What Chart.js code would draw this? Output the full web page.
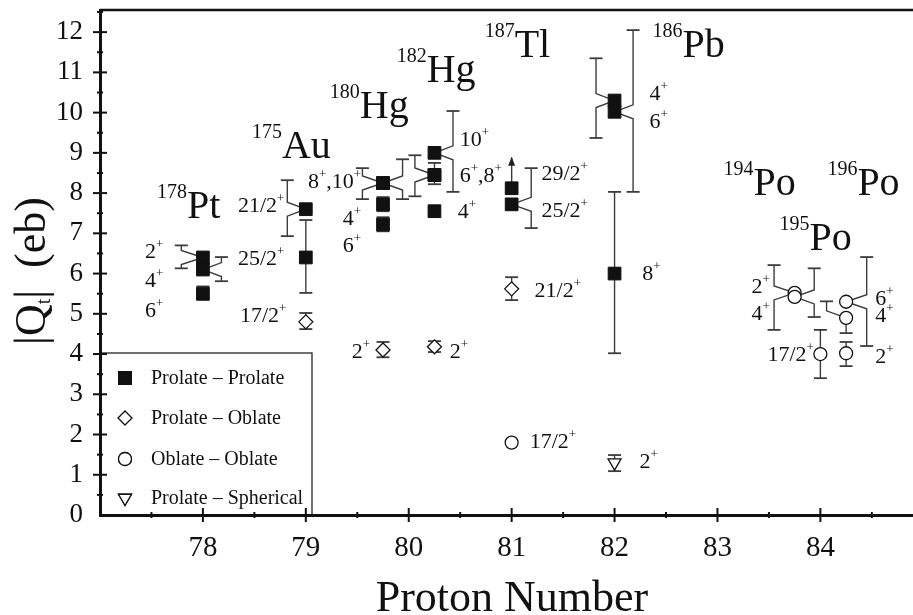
<!DOCTYPE html>
<html>
<head>
<meta charset="utf-8">
<script src="https://cdn.jsdelivr.net/npm/chart.js@4.4.0/dist/chart.umd.min.js"></script>
<style>
  html, body { margin: 0; padding: 0; background: #fff; overflow: hidden; }
  #wrap { width: 913px; height: 615px; }
  canvas { display: block; }
</style>
</head>
<body>
<div id="wrap"><canvas id="grafico"></canvas></div>
<script>
// Prolate - Prolate (filled squares)
const ppZ    = [78, 78, 78, 79, 79, 79.75, 79.75, 79.75, 79.75, 80.25, 80.25, 80.25, 80.25, 81, 81, 82, 82, 82];
const ppQ    = [6.4, 6.1, 5.5, 7.6, 6.4, 8.25, 8.25, 7.72, 7.22, 9.0, 8.45, 8.45, 7.55, 8.12, 7.72, 10.3, 10.02, 6.0];
const ppLo   = [6.13, 5.81, 5.35, 6.93, 5.52, 7.85, 7.85, 7.55, 7.05, 8.03, 7.92, 8.22, null, null, 7.13, 9.37, 8.03, 4.02];
const ppHi   = [6.7, 6.41, 5.68, 8.32, 7.33, 8.62, 8.84, 7.9, 7.4, 10.04, 8.94, 8.75, null, 8.88, 8.62, 11.35, 12.05, 8.03];
const ppBarZ = [77.79, 78.18, 78, 78.82, 79, 79.55, 79.94, 79.75, 79.75, 80.43, 80.06, 80.25, 80.25, 81, 81.19, 81.82, 82.18, 82];

// Prolate - Oblate (open diamonds)
const poZ  = [79, 79.75, 80.25, 81];
const poQ  = [4.8, 4.1, 4.18, 5.62];
const poLo = [4.62, 3.92, 4.05, 5.34];
const poHi = [5.02, 4.3, 4.32, 5.91];

// Oblate - Oblate (open circles)
const ooZ      = [81, 83.75, 83.75, 84, 84.25, 84.25, 84.25];
const ooQ      = [1.8, 5.52, 5.42, 4.0, 5.3, 4.9, 4.02];
const ooLo     = [null, 4.6, 4.92, 3.4, 4.2, 4.52, 3.7];
const ooHi     = [null, 6.21, 6.13, 4.6, 6.41, 5.31, 4.3];
const ooBarLoZ = [81, 83.55, 83.94, 84, 84.45, 84.25, 84.25];
const ooBarHiZ = [81, 83.55, 83.94, 84, 84.45, 84.06, 84.25];

// Prolate - Spherical (open triangles)
const psZ  = [82];
const psQ  = [1.3];
const psLo = [1.09];
const psHi = [1.49];

// isotope names
const isoMass = ['178', '175', '180', '182', '187', '186', '194', '196', '195'];
const isoName = ['Pt', 'Au', 'Hg', 'Hg', 'Tl', 'Pb', 'Po', 'Po', 'Po'];
const isoZ    = [77.553, 78.476, 79.233, 79.883, 80.738, 82.369, 83.058, 84.068, 83.602];
const isoQ    = [7.38, 8.87, 9.86, 10.76, 11.38, 11.38, 7.95, 7.95, 6.58];

// spin labels
const spinTxt = ['2^+', '4^+', '6^+', '21/2^+', '25/2^+', '17/2^+', '8^+,10^+', '4^+', '6^+', '2^+',
                 '10^+', '6^+,8^+', '4^+', '2^+', '29/2^+', '25/2^+', '21/2^+', '17/2^+',
                 '4^+', '6^+', '8^+', '2^+', '2^+', '4^+', '17/2^+', '6^+', '4^+', '2^+'];
const spinZ = [77.437, 77.437, 77.437, 78.34, 78.34, 78.36, 79.02, 79.36, 79.36, 79.447,
               80.495, 80.495, 80.476, 80.398, 81.29, 81.29, 81.223, 81.175,
               82.34, 82.34, 82.27, 82.243, 83.33, 83.33, 83.485, 84.534, 84.534, 84.534];
const spinQ = [6.385, 5.665, 4.92, 7.53, 6.21, 4.795, 8.12, 7.2, 6.53, 3.9,
               9.17, 8.27, 7.38, 3.9, 8.32, 7.40, 5.42, 1.66,
               10.31, 9.61, 5.84, 1.17, 5.52, 4.84, 3.83, 5.22, 4.80, 3.78];

const serie = [
  { z: ppZ, q: ppQ, lo: ppLo, hi: ppHi, barLo: ppBarZ, barHi: ppBarZ },
  { z: poZ, q: poQ, lo: poLo, hi: poHi, barLo: poZ, barHi: poZ },
  { z: ooZ, q: ooQ, lo: ooLo, hi: ooHi, barLo: ooBarLoZ, barHi: ooBarHiZ },
  { z: psZ, q: psQ, lo: psLo, hi: psHi, barLo: psZ, barHi: psZ },
];

const fuente = '"Liberation Serif", "Times New Roman", serif';

function puntos(zs, qs) {
  return zs.map((z, i) => ({ x: z, y: qs[i] }));
}

function mitadBarra(ctx, px, py, bx, by, dir, flecha) {
  ctx.beginPath();
  ctx.moveTo(px, py);
  if (Math.abs(bx - px) > 0.5) {
    ctx.lineTo(bx, py + dir * 7);
  }
  ctx.lineTo(bx, by);
  ctx.lineWidth = 1.4;
  ctx.stroke();
  if (flecha) {
    ctx.beginPath();
    ctx.moveTo(bx, by - 1);
    ctx.lineTo(bx - 3.5, by + 8);
    ctx.lineTo(bx + 3.5, by + 8);
    ctx.closePath();
    ctx.fill();
  } else {
    ctx.beginPath();
    ctx.moveTo(bx - 6.5, by);
    ctx.lineTo(bx + 6.5, by);
    ctx.lineWidth = 1.8;
    ctx.stroke();
  }
}

function textoSpin(ctx, txt, x, y) {
  const partes = txt.split('^+');
  let cx = x;
  partes.forEach((p, k) => {
    ctx.font = '22px ' + fuente;
    ctx.fillText(p, cx, y);
    cx += ctx.measureText(p).width;
    if (k < partes.length - 1) {
      ctx.font = '13px ' + fuente;
      ctx.fillText('+', cx, y - 10);
      cx += ctx.measureText('+').width;
    }
  });
}

const decorado = {
  id: 'decorado',
  beforeDatasetsDraw(chart) {
    const { ctx, scales: { x, y } } = chart;
    ctx.save();
    ctx.strokeStyle = '#3c3c3c';
    ctx.fillStyle = '#222';
    serie.forEach(s => {
      s.z.forEach((z, i) => {
        const px = x.getPixelForValue(z), py = y.getPixelForValue(s.q[i]);
        if (s.hi[i] != null) {
          mitadBarra(ctx, px, py, x.getPixelForValue(s.barHi[i]), y.getPixelForValue(s.hi[i]), -1, s.lo[i] == null);
        }
        if (s.lo[i] != null) {
          mitadBarra(ctx, px, py, x.getPixelForValue(s.barLo[i]), y.getPixelForValue(s.lo[i]), 1, false);
        }
      });
    });
    ctx.restore();
  },
  afterDatasetsDraw(chart) {
    const { ctx, chartArea: area, scales: { x, y } } = chart;
    ctx.save();
    ctx.fillStyle = '#111';
    ctx.strokeStyle = '#111';
    ctx.textBaseline = 'alphabetic';
    ctx.textAlign = 'left';

    // marco superior
    ctx.lineWidth = 2.5;
    ctx.beginPath();
    ctx.moveTo(area.left, area.top);
    ctx.lineTo(area.right, area.top);
    ctx.stroke();

    // ticks mayores y menores
    ctx.lineWidth = 2;
    for (let v = 0.5; v <= 12.5; v += 0.5) {
      const py = y.getPixelForValue(v), l = Number.isInteger(v) ? 7 : 3;
      ctx.beginPath(); ctx.moveTo(area.left - l, py); ctx.lineTo(area.left + l, py); ctx.stroke();
    }
    for (let v = 77.5; v <= 84.5; v += 0.5) {
      const px = x.getPixelForValue(v), l = Number.isInteger(v) ? 7 : 3;
      ctx.beginPath(); ctx.moveTo(px, area.bottom - l); ctx.lineTo(px, area.bottom + l); ctx.stroke();
    }

    // nombres de isotopos
    isoName.forEach((n, i) => {
      const px = x.getPixelForValue(isoZ[i]), py = y.getPixelForValue(isoQ[i]);
      ctx.font = '20px ' + fuente;
      ctx.fillText(isoMass[i], px, py - 20);
      const w = ctx.measureText(isoMass[i]).width;
      ctx.font = '40px ' + fuente;
      ctx.fillText(n, px + w, py);
    });

    // etiquetas de spin
    spinTxt.forEach((t, i) => {
      textoSpin(ctx, t, x.getPixelForValue(spinZ[i]), y.getPixelForValue(spinQ[i]));
    });

    // leyenda
    const top = area.bottom - 162;
    ctx.lineWidth = 1.2;
    ctx.strokeRect(area.left, top, 212, area.bottom - top);
    const filas = [25, 65, 106, 145];
    chart.data.datasets.forEach((ds, i) => {
      const cy = top + filas[i];
      Chart.helpers.drawPoint(ctx, {
        pointStyle: ds.pointStyle, radius: ds.pointRadius, rotation: ds.rotation || 0,
        borderWidth: ds.borderWidth
      }, area.left + 25, cy);
      ctx.fillStyle = ds.backgroundColor;
      ctx.strokeStyle = ds.borderColor;
      ctx.lineWidth = ds.borderWidth;
      ctx.fill();
      ctx.stroke();
      ctx.fillStyle = '#111';
      ctx.font = '20px ' + fuente;
      ctx.textBaseline = 'middle';
      ctx.fillText(ds.label, area.left + 51, cy + 1);
      ctx.textBaseline = 'alphabetic';
    });

    // titulo eje y
    ctx.save();
    ctx.translate(45, 271);
    ctx.rotate(-Math.PI / 2);
    ctx.font = '44px ' + fuente;
    const a = '|Q', b = 't', c = '|  (eb)';
    const wa = ctx.measureText(a).width, wc = ctx.measureText(c).width;
    ctx.font = '20px ' + fuente;
    const wb = ctx.measureText(b).width;
    let cx = -(wa + wb + wc) / 2;
    ctx.font = '44px ' + fuente;
    ctx.fillText(a, cx, 0); cx += wa;
    ctx.font = '20px ' + fuente;
    ctx.fillText(b, cx, 5); cx += wb;
    ctx.font = '44px ' + fuente;
    ctx.fillText(c, cx, 0);
    ctx.restore();

    // titulo eje x
    ctx.font = '44px ' + fuente;
    ctx.textAlign = 'center';
    ctx.fillText('Proton Number', 512, 611);
    ctx.restore();
  }
};

new Chart(document.getElementById('grafico'), {
  type: 'scatter',
  data: {
    datasets: [
      { label: 'Prolate \u2013 Prolate', data: puntos(ppZ, ppQ), pointStyle: 'rect', pointRadius: 9,
        backgroundColor: '#111', borderColor: '#111', borderWidth: 1 },
      { label: 'Prolate \u2013 Oblate', data: puntos(poZ, poQ), pointStyle: 'rectRot', pointRadius: 7,
        backgroundColor: '#fff', borderColor: '#111', borderWidth: 1.3 },
      { label: 'Oblate \u2013 Oblate', data: puntos(ooZ, ooQ), pointStyle: 'circle', pointRadius: 6.5,
        backgroundColor: '#fff', borderColor: '#111', borderWidth: 1.3 },
      { label: 'Prolate \u2013 Spherical', data: puntos(psZ, psQ), pointStyle: 'triangle', rotation: 180, pointRadius: 7.5,
        backgroundColor: '#fff', borderColor: '#111', borderWidth: 1.3 },
    ],
  },
  options: {
    responsive: true,
    maintainAspectRatio: false,
    animation: false,
    layout: { autoPadding: false, padding: { top: 10, left: 0, right: 0, bottom: 0 } },
    plugins: { legend: { display: false }, tooltip: { enabled: false } },
    scales: {
      x: {
        type: 'linear', min: 77, max: 84.9,
        afterFit(scale) { scale.height = 100; scale.paddingLeft = 0; scale.paddingRight = 0; },
        grid: { display: false, drawTicks: false },
        border: { display: true, color: '#111', width: 3 },
        ticks: {
          stepSize: 1, includeBounds: false, autoSkip: false, maxRotation: 0, padding: 16,
          color: '#111', font: { family: fuente, size: 29 },
          callback: v => (v >= 78 && v <= 84 && Number.isInteger(v)) ? String(v) : '',
        },
      },
      y: {
        type: 'linear', min: 0, max: 12.55,
        afterFit(scale) { scale.width = 100; scale.paddingTop = 0; scale.paddingBottom = 0; },
        grid: { display: false, drawTicks: false },
        border: { display: true, color: '#111', width: 3 },
        ticks: {
          stepSize: 1, includeBounds: false, autoSkip: false, padding: 17,
          color: '#111', font: { family: fuente, size: 27 },
          callback: v => Number.isInteger(v) ? String(v) : '',
        },
      },
    },
  },
  plugins: [decorado],
});
</script>
</body>
</html>
